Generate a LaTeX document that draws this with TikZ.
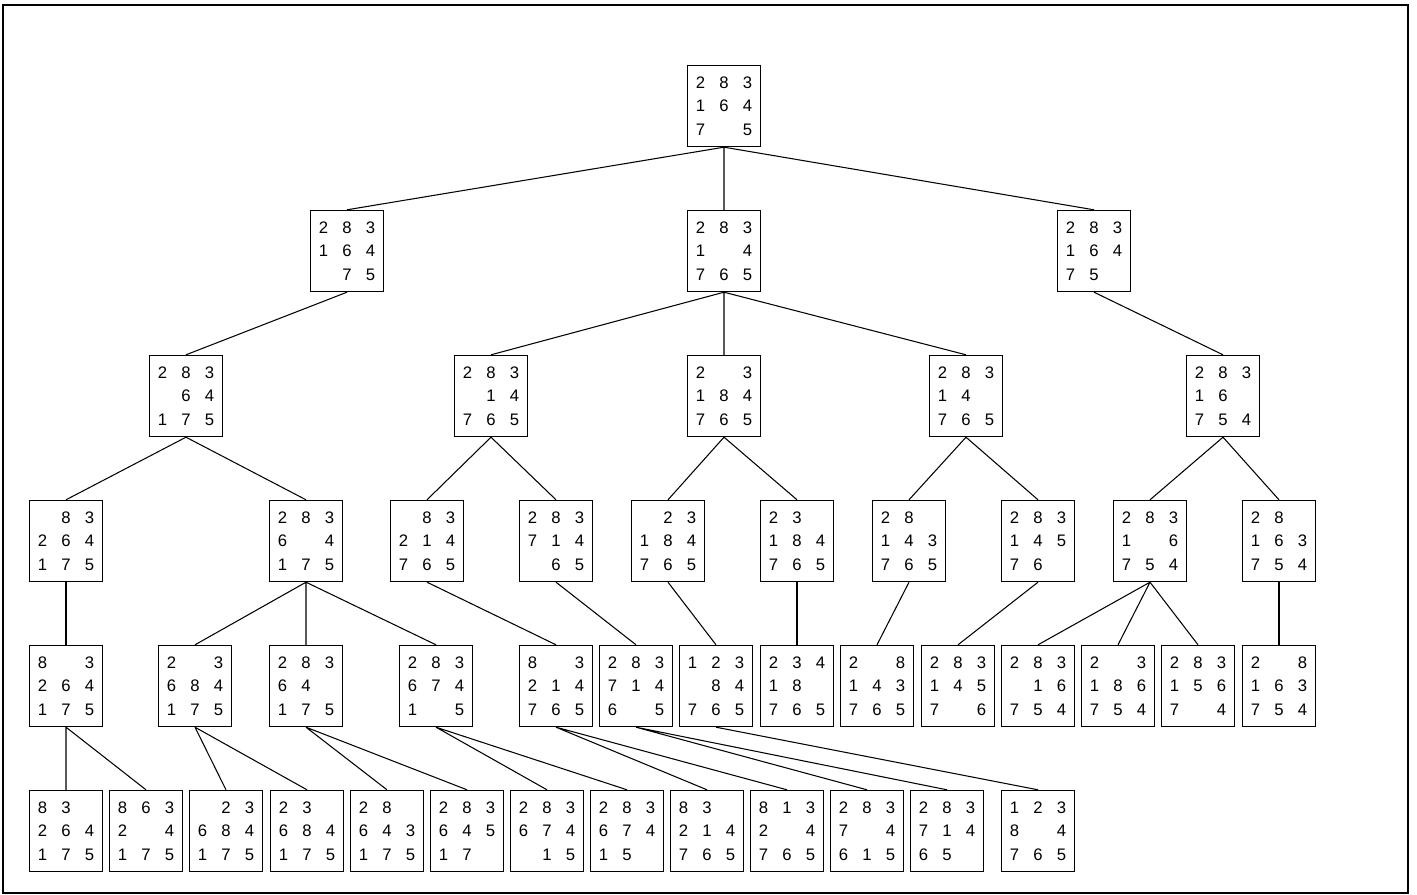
\documentclass[tikz,border=0pt]{standalone}
\usepackage{fontspec}
\setmainfont{Liberation Sans}
\usepackage{tikz}

\newcommand{\tcell}[1]{\makebox[0.47cm]{#1}}
\newcommand{\tiles}[9]{\tcell{#1}\tcell{#2}\tcell{#3}\\\tcell{#4}\tcell{#5}\tcell{#6}\\\tcell{#7}\tcell{#8}\tcell{#9}}

\begin{document}
\begin{tikzpicture}[x=0.02cm, y=-0.02cm,
    font=\fontsize{9.5}{13.4}\selectfont,
    state/.style={draw, line width=0.8pt, inner sep=0pt, align=center,
                  minimum width=1.46cm, minimum height=1.62cm},
    edge/.style={line width=0.6pt}]

  \useasboundingbox (0,0) rectangle (1417,895);
  \draw[line width=1.2pt] (3,5) rectangle (1408,893);

  % level 0 and 1
  \node[state] (r) at (724,106) {\tiles{2}{8}{3}{1}{6}{4}{7}{}{5}};
  \node[state] (a1) at (347,251) {\tiles{2}{8}{3}{1}{6}{4}{}{7}{5}};
  \node[state] (a2) at (724,251) {\tiles{2}{8}{3}{1}{}{4}{7}{6}{5}};
  \node[state] (a3) at (1094,251) {\tiles{2}{8}{3}{1}{6}{4}{7}{5}{}};

  % level 2
  \node[state] (b1) at (186,396) {\tiles{2}{8}{3}{}{6}{4}{1}{7}{5}};
  \node[state] (b2) at (491,396) {\tiles{2}{8}{3}{}{1}{4}{7}{6}{5}};
  \node[state] (b3) at (724,396) {\tiles{2}{}{3}{1}{8}{4}{7}{6}{5}};
  \node[state] (b4) at (966,396) {\tiles{2}{8}{3}{1}{4}{}{7}{6}{5}};
  \node[state] (b5) at (1223,396) {\tiles{2}{8}{3}{1}{6}{}{7}{5}{4}};

  % level 3
  \node[state] (c1) at (66,541) {\tiles{}{8}{3}{2}{6}{4}{1}{7}{5}};
  \node[state] (c2) at (306,541) {\tiles{2}{8}{3}{6}{}{4}{1}{7}{5}};
  \node[state] (c3) at (427,541) {\tiles{}{8}{3}{2}{1}{4}{7}{6}{5}};
  \node[state] (c4) at (556,541) {\tiles{2}{8}{3}{7}{1}{4}{}{6}{5}};
  \node[state] (c5) at (668,541) {\tiles{}{2}{3}{1}{8}{4}{7}{6}{5}};
  \node[state] (c6) at (797,541) {\tiles{2}{3}{}{1}{8}{4}{7}{6}{5}};
  \node[state] (c7) at (909,541) {\tiles{2}{8}{}{1}{4}{3}{7}{6}{5}};
  \node[state] (c8) at (1038,541) {\tiles{2}{8}{3}{1}{4}{5}{7}{6}{}};
  \node[state] (c9) at (1150,541) {\tiles{2}{8}{3}{1}{}{6}{7}{5}{4}};
  \node[state] (c10) at (1279,541) {\tiles{2}{8}{}{1}{6}{3}{7}{5}{4}};

  % level 4
  \node[state] (d1) at (66,686) {\tiles{8}{}{3}{2}{6}{4}{1}{7}{5}};
  \node[state] (d2) at (195,686) {\tiles{2}{}{3}{6}{8}{4}{1}{7}{5}};
  \node[state] (d3) at (306,686) {\tiles{2}{8}{3}{6}{4}{}{1}{7}{5}};
  \node[state] (d4) at (436,686) {\tiles{2}{8}{3}{6}{7}{4}{1}{}{5}};
  \node[state] (d5) at (556,686) {\tiles{8}{}{3}{2}{1}{4}{7}{6}{5}};
  \node[state] (d6) at (636,686) {\tiles{2}{8}{3}{7}{1}{4}{6}{}{5}};
  \node[state] (d7) at (716,686) {\tiles{1}{2}{3}{}{8}{4}{7}{6}{5}};
  \node[state] (d8) at (797,686) {\tiles{2}{3}{4}{1}{8}{}{7}{6}{5}};
  \node[state] (d9) at (877,686) {\tiles{2}{}{8}{1}{4}{3}{7}{6}{5}};
  \node[state] (d10) at (958,686) {\tiles{2}{8}{3}{1}{4}{5}{7}{}{6}};
  \node[state] (d11) at (1038,686) {\tiles{2}{8}{3}{}{1}{6}{7}{5}{4}};
  \node[state] (d12) at (1118,686) {\tiles{2}{}{3}{1}{8}{6}{7}{5}{4}};
  \node[state] (d13) at (1198,686) {\tiles{2}{8}{3}{1}{5}{6}{7}{}{4}};
  \node[state] (d14) at (1279,686) {\tiles{2}{}{8}{1}{6}{3}{7}{5}{4}};

  % level 5
  \node[state] (e1) at (66,831) {\tiles{8}{3}{}{2}{6}{4}{1}{7}{5}};
  \node[state] (e2) at (146,831) {\tiles{8}{6}{3}{2}{}{4}{1}{7}{5}};
  \node[state] (e3) at (226,831) {\tiles{}{2}{3}{6}{8}{4}{1}{7}{5}};
  \node[state] (e4) at (307,831) {\tiles{2}{3}{}{6}{8}{4}{1}{7}{5}};
  \node[state] (e5) at (387,831) {\tiles{2}{8}{}{6}{4}{3}{1}{7}{5}};
  \node[state] (e6) at (467,831) {\tiles{2}{8}{3}{6}{4}{5}{1}{7}{}};
  \node[state] (e7) at (547,831) {\tiles{2}{8}{3}{6}{7}{4}{}{1}{5}};
  \node[state] (e8) at (627,831) {\tiles{2}{8}{3}{6}{7}{4}{1}{5}{}};
  \node[state] (e9) at (707,831) {\tiles{8}{3}{}{2}{1}{4}{7}{6}{5}};
  \node[state] (e10) at (787,831) {\tiles{8}{1}{3}{2}{}{4}{7}{6}{5}};
  \node[state] (e11) at (867,831) {\tiles{2}{8}{3}{7}{}{4}{6}{1}{5}};
  \node[state] (e12) at (947,831) {\tiles{2}{8}{3}{7}{1}{4}{6}{5}{}};
  \node[state] (e13) at (1038,831) {\tiles{1}{2}{3}{8}{}{4}{7}{6}{5}};

  \draw[edge] (r.south) -- (a1.north) (r.south) -- (a2.north) (r.south) -- (a3.north);
  \draw[edge] (a1.south) -- (b1.north);
  \draw[edge] (a2.south) -- (b2.north) (a2.south) -- (b3.north) (a2.south) -- (b4.north);
  \draw[edge] (a3.south) -- (b5.north);

  \draw[edge] (b1.south) -- (c1.north) (b1.south) -- (c2.north);
  \draw[edge] (b2.south) -- (c3.north) (b2.south) -- (c4.north);
  \draw[edge] (b3.south) -- (c5.north) (b3.south) -- (c6.north);
  \draw[edge] (b4.south) -- (c7.north) (b4.south) -- (c8.north);
  \draw[edge] (b5.south) -- (c9.north) (b5.south) -- (c10.north);

  \draw[edge] (c1.south) -- (d1.north);
  \draw[edge] (c2.south) -- (d2.north) (c2.south) -- (d3.north) (c2.south) -- (d4.north);
  \draw[edge] (c3.south) -- (d5.north);
  \draw[edge] (c4.south) -- (d6.north);
  \draw[edge] (c5.south) -- (d7.north);
  \draw[edge] (c6.south) -- (d8.north);
  \draw[edge] (c7.south) -- (d9.north);
  \draw[edge] (c8.south) -- (d10.north);
  \draw[edge] (c9.south) -- (d11.north) (c9.south) -- (d12.north) (c9.south) -- (d13.north);
  \draw[edge] (c10.south) -- (d14.north);

  \draw[edge] (d1.south) -- (e1.north) (d1.south) -- (e2.north);
  \draw[edge] (d2.south) -- (e3.north) (d2.south) -- (e4.north);
  \draw[edge] (d3.south) -- (e5.north) (d3.south) -- (e6.north);
  \draw[edge] (d4.south) -- (e7.north) (d4.south) -- (e8.north);
  \draw[edge] (d5.south) -- (e9.north) (d5.south) -- (e10.north);
  \draw[edge] (d6.south) -- (e11.north) (d6.south) -- (e12.north);
  \draw[edge] (d7.south) -- (e13.north);
\end{tikzpicture}
\end{document}
